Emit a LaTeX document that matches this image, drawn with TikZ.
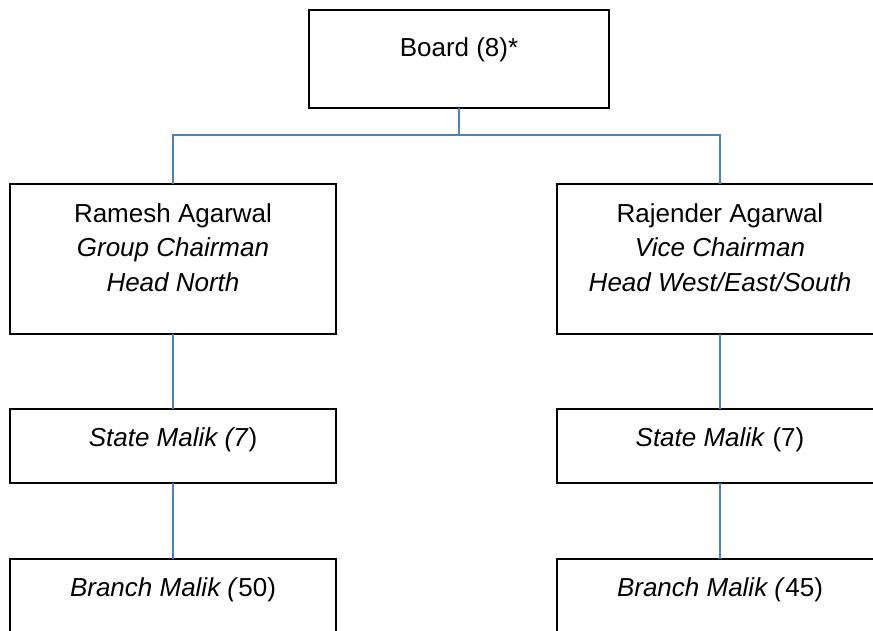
\documentclass[tikz,border=0pt]{standalone}
\usepackage{fontspec}
\setmainfont{Liberation Sans}
\begin{document}
\begin{tikzpicture}[x=1pt,y=-1pt,
  orgbox/.style={draw=black, line width=2.9pt, fill=white, rectangle,
    minimum width=#1, inner sep=0pt, outer sep=0pt},
  boxtext/.style={anchor=north, align=center, inner sep=0pt,
    font=\fontsize{26pt}{34.5pt}\selectfont},
  conn/.style={draw=linkblue, line width=1.3pt}
]
\definecolor{linkblue}{RGB}{79,129,189}
\useasboundingbox[fill=white] (0,0) rectangle (873,630);
\clip (0,0) rectangle (873,630);

% boxes
\node[orgbox=300pt, minimum height=98pt]  (board)    at (459,59)  {};
\node[orgbox=326pt, minimum height=150pt] (ramesh)   at (173,259) {};
\node[orgbox=326pt, minimum height=150pt] (rajender) at (720,259) {};
\node[orgbox=326pt, minimum height=74pt]  (stateL)   at (173,446) {};
\node[orgbox=326pt, minimum height=74pt]  (stateR)   at (720,446) {};
\node[orgbox=326pt, minimum height=74pt]  (branchL)  at (173,596) {};
\node[orgbox=326pt, minimum height=74pt]  (branchR)  at (720,596) {};

% labels
\node[boxtext] (boardtxt) at ([yshift=-27pt]board.north) {Board (8)*};
\node[boxtext] (rameshtxt) at ([yshift=-19pt]ramesh.north)
  {Ramesh Agarwal\\\textit{Group Chairman}\\\textit{Head North}};
\node[boxtext] (rajendertxt) at ([yshift=-19pt]rajender.north)
  {Rajender Agarwal\\\textit{Vice Chairman}\\\textit{Head West/East/South}};
\node[boxtext] (stateLtxt) at ([yshift=-18pt]stateL.north) {\textit{State Malik (7})};
\node[boxtext] (stateRtxt) at ([yshift=-18pt]stateR.north) {\textit{State Malik} (7)};
\node[boxtext] (branchLtxt) at ([yshift=-18pt]branchL.north) {\textit{Branch Malik (}50)};
\node[boxtext] (branchRtxt) at ([yshift=-18pt]branchR.north) {\textit{Branch Malik (}45)};

% connectors
\draw[conn] (board.south) -- ++(0,27) coordinate (bus);
\draw[conn] (ramesh.north) |- (bus) -| (rajender.north);
\draw[conn] (ramesh.south) -- (stateL.north);
\draw[conn] (stateL.south) -- (branchL.north);
\draw[conn] (rajender.south) -- (stateR.north);
\draw[conn] (stateR.south) -- (branchR.north);
\end{tikzpicture}
\end{document}
